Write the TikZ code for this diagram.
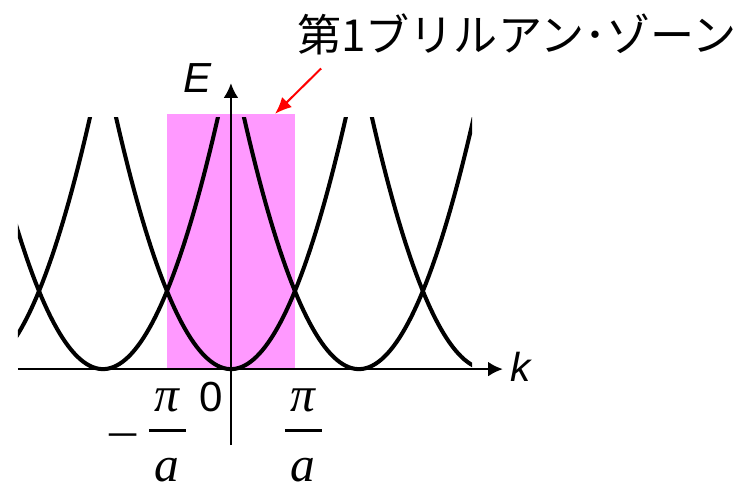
\documentclass[tikz,border=0pt]{standalone}
\usepackage{fontspec}
\setmainfont{Liberation Sans}
\newfontfamily\jpfont{Noto Sans CJK JP}
\newfontfamily\timesfont{Liberation Serif}
\usepackage{tikz}
\usetikzlibrary{arrows.meta,calc,positioning}
\usepackage{xcolor}
\definecolor{zonepink}{HTML}{FF99FF}
\definecolor{pointerred}{HTML}{FF0000}
% pi over a, set as a stacked fraction in serif italic
\newcommand{\piovera}{{\setlength{\tabcolsep}{2.7pt}%
  \setlength{\arrayrulewidth}{1.3pt}%
  \begin{tabular}[b]{c}π\\\hline\rule{0pt}{22pt}a\end{tabular}}}

\begin{document}
\begin{tikzpicture}[
  font=\fontsize{18.7}{22}\selectfont,
  band/.style={line width=1.8pt,draw=black,line join=round},
  axis/.style={-{Latex[length=2.3mm,width=2.3mm]},line width=.9pt,
    draw=black},
  pointer/.style={-{Latex[length=2.6mm,width=2.2mm]},line width=.9pt,
    draw=pointerred},
  lab/.style={inner sep=1pt},
  fraclab/.style={lab,anchor=base,font=\fontsize{22}{26}\timesfont\itshape}
]
\useasboundingbox (-3.61,-1.89) rectangle (8.02,5.77);

% First Brillouin zone, -pi/a < k < pi/a.
\fill[zonepink] (-1,0) rectangle (1,3.98);

% Free-electron parabolas repeated every 2pi/a, cut to the plotted window.
\begin{scope}
  \clip (-3.33,-.2) rectangle (3.77,3.94);
  \foreach \c in {-4,-2,0,2,4} {
    \pgfmathsetmacro{\kmin}{\c-1.85}
    \pgfmathsetmacro{\kmax}{\c+1.85}
    \draw[band,domain=\kmin:\kmax,samples=80]
      plot (\x,{1.22*(\x-\c)^2});
  }
\end{scope}

\coordinate (k-from) at (-3.33,0);
\coordinate (k-to) at (4.25,0);
\coordinate (E-from) at (0,-1.19);
\coordinate (E-to) at (0,4.47);
\draw[axis] (k-from) -- (k-to);
\draw[axis] (E-from) -- (E-to);

\node[lab,anchor=base,font=\fontsize{18.7}{22}\selectfont\itshape]
  (E-label) at (-.53,4.33) {E};
\node[lab,anchor=base,font=\fontsize{18}{22}\selectfont\itshape]
  (k-label) at (4.53,-.2) {k};
\node[lab,anchor=base] (origin-label) at (-.31,-.67) {0};
\node[fraclab] (pi-left) at (-1.36,-1.76)
  {\raisebox{13.5pt}{\scalebox{1.2}[1]{−}}\hspace{3pt}\piovera};
\node[fraclab] (pi-right) at (1.13,-1.76) {\piovera};

% Caption with its pointer onto the zone.
\node[lab,font=\fontsize{19.6}{24}\jpfont] (zone-title) at (4.47,5.24)
  {第1ブリルアン･ゾーン};
\coordinate (pointer-tail) at (1.41,4.70);
\coordinate (pointer-head) at (.69,3.99);
\draw[pointer] (pointer-tail) -- (pointer-head);
\end{tikzpicture}
\end{document}
